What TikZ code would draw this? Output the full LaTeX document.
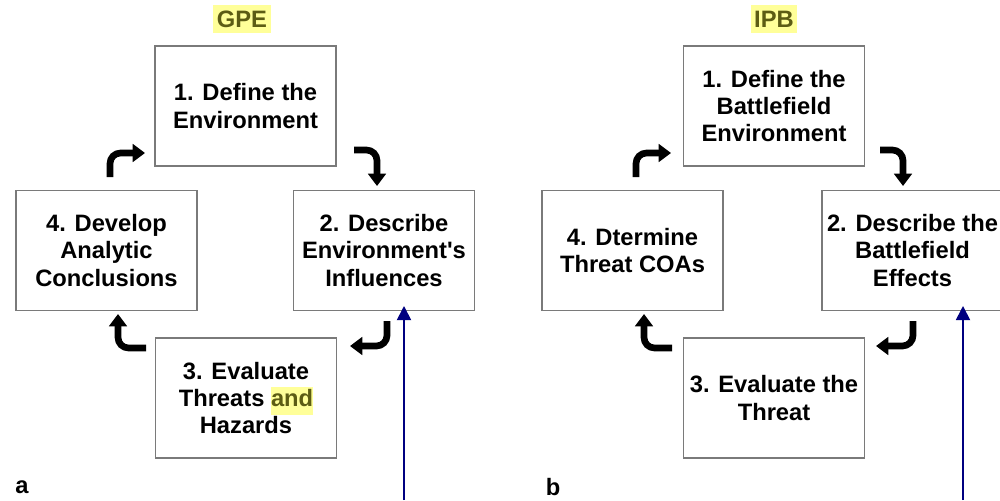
\documentclass[tikz,border=0pt]{standalone}
\usepackage{fontspec}
\setmainfont{Liberation Sans}
\usetikzlibrary{arrows.meta}

\definecolor{boxgray}{HTML}{7A7A7A}
\definecolor{titleolive}{HTML}{5C5C14}
\definecolor{hilite}{HTML}{FFFF99}
\definecolor{navyblue}{HTML}{000080}

\begin{document}
\begin{tikzpicture}[x=0.02cm, y=-0.02cm]
        \tikzstyle{every node}=[font=\bfseries\fontsize{13.5}{15.6}\selectfont, align=center]
        \tikzstyle{stage}=[draw=boxgray, line width=1.1pt, minimum width=3.62cm, minimum height=2.4cm, inner sep=0pt]
        \tikzstyle{turn}=[line width=3.8pt, rounded corners=6pt, -{Triangle[width=10pt, length=7pt]}]
        \tikzstyle{pointer}=[navyblue, line width=1pt, -{Triangle[width=8pt, length=8pt]}]
        \tikzstyle{title}=[fill=hilite, text=titleolive, inner xsep=2pt, minimum height=0.46cm]

        \useasboundingbox (0,0) rectangle (1000,500);

        % GPE
        \node (gpe) [title] at (242,19) {GPE};
        \node (g1) [stage] at (245.5,106) {1. Define the\\Environment};
        \node (g2) [stage] at (384,250.5) {2. Describe\\Environment\textquotesingle s\\Influences};
        \node (g3) [stage] at (246,398) {3. Evaluate\\Threats {\setlength{\fboxsep}{0pt}\colorbox{hilite}{\strut\textcolor{titleolive}{and}}}\\Hazards};
        \node (g4) [stage] at (106.5,250.5) {4. Develop\\Analytic\\Conclusions};
        \node (la) at (22,487) {a};

        % IPB
        \node (ipb) [title] at (774,19) {IPB};
        \node (i1) [stage] at (774,106) {1. Define the\\Battlefield\\Environment};
        \node (i2) [stage] at (912.5,250.5) {2. Describe the\\Battlefield\\Effects};
        \node (i3) [stage] at (774,398) {3. Evaluate the\\Threat};
        \node (i4) [stage] at (632.5,250.5) {4. Dtermine\\Threat COAs};
        \node (lb) at (553,487) {b};

        % turning arrows
        \foreach \dx in {0,526} {
            \draw[turn] (110+\dx,177) -- (110+\dx,153) -- (145+\dx,153);
            \draw[turn] (354+\dx,150) -- (377+\dx,150) -- (377+\dx,186);
            \draw[turn] (387+\dx,321) -- (387+\dx,346) -- (350+\dx,346);
            \draw[turn] (146+\dx,348) -- (118+\dx,348) -- (118+\dx,314);
        }

        \coordinate (ga) at (404,500);
        \coordinate (gt) at (404,306);
        \coordinate (ia) at (963,500);
        \coordinate (it) at (963,306);
        \draw[pointer] (ga) -- (gt);
        \draw[pointer] (ia) -- (it);

    \end{tikzpicture}
\end{document}
